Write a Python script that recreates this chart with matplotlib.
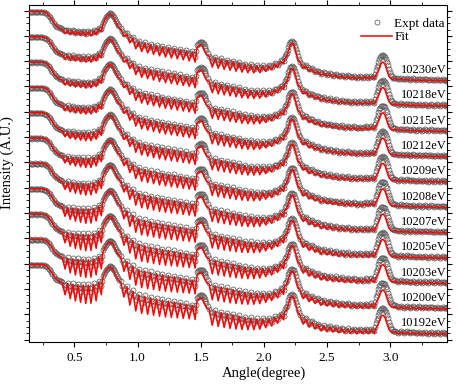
import numpy as np
import matplotlib
matplotlib.use('Agg')
import matplotlib.pyplot as plt
from matplotlib.ticker import MultipleLocator

plt.rcParams['font.family'] = ['Liberation Serif', 'DejaVu Serif']

energies = ['10230eV', '10218eV', '10215eV', '10212eV', '10209eV', '10208eV',
            '10207eV', '10205eV', '10203eV', '10200eV', '10192eV']
# how deep the fit fringes go for each energy (0 = like 10230eV, 1 = like 10192eV)
fringe_depth = [0.0, 0.05, 0.1, 0.15, 0.25, 0.35, 0.5, 0.7, 0.85, 0.95, 1.0]

# smooth parts of each curve (plateau, edge, Bragg peaks), drop below plateau in px
base_x = [0.145, 0.165, 0.185, 0.205, 0.225, 0.245, 0.265, 0.285, 0.305, 0.325, 0.345, 0.365, 0.385,
          0.725, 0.74, 0.755, 0.77, 0.785, 0.80, 0.815, 0.83, 0.845,
          1.47, 1.485, 1.50, 1.515, 1.53, 1.545,
          2.165, 2.18, 2.195, 2.21, 2.225, 2.24, 2.255, 2.27,
          2.885, 2.90, 2.915, 2.93, 2.945, 2.96, 2.975, 2.99, 3.005, 3.02, 3.45]
base_fit = [0, 0, 0, 0, 0, 0, 0.5, 2, 5, 9, 13, 15.5, 17,
            13, 8.5, 5, 3, 2.5, 4, 7.5, 11.5, 15,
            36, 34, 33.5, 35, 39, 43,
            47, 45, 39, 33, 31.5, 34, 41, 48,
            64, 61, 56, 51.5, 50.5, 53, 59, 64.5, 67, 68, 69]
base_expt = [0, 0.5, 0, 0.5, 0, 0.5, 1, 2.5, 5.5, 9.5, 13, 15, 16.5,
             11, 7, 4, 2, 1.5, 2.5, 5.5, 9.5, 13,
             33, 31, 30.5, 31, 34, 38,
             44, 41, 35, 30.5, 29.5, 31, 37, 44,
             58, 53, 47, 44, 43.5, 45, 50, 57, 63, 66, 68]

# fringe maxima positions (degree) between the Bragg peaks
fringe_max = [
    [0.405, 0.446, 0.487, 0.528, 0.569, 0.610, 0.651, 0.692],
    [0.868, 0.915, 0.962, 1.009, 1.056, 1.103, 1.150, 1.197, 1.244, 1.291, 1.338, 1.385, 1.432],
    [1.568, 1.615, 1.662, 1.709, 1.756, 1.803, 1.850, 1.897, 1.944, 1.991, 2.038, 2.085, 2.132],
    [2.288, 2.335, 2.382, 2.429, 2.476, 2.523, 2.570, 2.617, 2.664, 2.711, 2.758, 2.805, 2.852],
    [3.040, 3.087, 3.134, 3.181, 3.228, 3.275, 3.322, 3.369, 3.416],
]

# fringe envelope: tops, and bottoms for shallow / deep curves (px below plateau)
env_x = [0.40, 0.45, 0.52, 0.60, 0.66, 0.71, 0.86, 0.92, 1.00, 1.10, 1.20, 1.30, 1.40, 1.44,
         1.57, 1.65, 1.75, 1.85, 1.95, 2.05, 2.12, 2.15, 2.29, 2.35, 2.45, 2.60, 2.75, 2.87,
         3.03, 3.20, 3.44]
env_hi = [18, 19, 20, 20.5, 19.5, 16, 17, 23, 30, 33, 35.5, 37.5, 40, 41,
          45, 47.5, 50, 53, 54.5, 54.5, 51, 48, 51, 56, 61, 64, 65.5, 65,
          67, 68, 68.5]
env_lo_shallow = [21, 22.5, 23.5, 24.5, 24, 20, 20, 29, 39, 42, 45, 47, 49, 50,
                  55, 57, 59, 61, 61.5, 59, 55, 52, 55, 59.5, 63.5, 66.5, 67.5, 67,
                  68, 69, 69.5]
env_lo_deep = [27, 33, 37, 39, 38, 30, 26, 38, 48, 50, 52, 53, 54, 54,
               60, 62, 64, 65, 65, 62, 58, 55, 58, 62, 66, 68, 69, 68.5,
               69, 69.5, 70]
# measured points sit a little above the fit tops and fill part of the dips
expt_shift = -1.0
expt_fill = 0.4

px_per_decade = 25.3
top_level = 12.96

# fringe extrema: maxima and the minima between them
ext_x, ext_is_max = [], []
for seg in fringe_max:
    for k, xm in enumerate(seg):
        ext_x.append(xm)
        ext_is_max.append(True)
        if k + 1 < len(seg):
            ext_x.append((xm + seg[k + 1]) / 2)
        else:
            ext_x.append(xm + (xm - seg[k - 1]) / 2)
        ext_is_max.append(False)
ext_x = np.array(ext_x)
ext_is_max = np.array(ext_is_max)

hi = np.interp(ext_x, env_x, env_hi)
lo_sh = np.interp(ext_x, env_x, env_lo_shallow)
lo_dp = np.interp(ext_x, env_x, env_lo_deep)

fig = plt.figure(figsize=(4.57, 3.84), dpi=100)
ax = fig.add_axes([0.0635, 0.109, 0.9145, 0.878])

for i, lab in enumerate(energies):
    lo = lo_sh + fringe_depth[i] * (lo_dp - lo_sh)
    fit_ext = np.where(ext_is_max, hi, lo)
    expt_ext = np.where(ext_is_max, hi + expt_shift, hi + expt_fill * (lo - hi))
    x = np.concatenate([base_x, ext_x])
    order = np.argsort(x)
    x = x[order]
    fit = np.concatenate([base_fit, fit_ext])[order]
    expt = np.concatenate([base_expt, expt_ext])[order]
    # measured points are recorded about twice as densely as the fringe extrema
    ex = np.concatenate([x, (x[:-1] + x[1:]) / 2])
    ey = np.concatenate([expt, (expt[:-1] + expt[1:]) / 2])
    level = top_level - i
    ax.plot(ex, level - ey / px_per_decade, 'o', mfc='none', mec='#5c5c5c',
            ms=3.6, mew=0.55, zorder=2, label='Expt data' if i == 0 else None)
    ax.plot(x, level - fit / px_per_decade, color='red', lw=1.1, zorder=3,
            label='Fit' if i == 0 else None)
    ax.text(3.445, level - 58.5 / px_per_decade, lab, ha='right', va='center', fontsize=9)

ax.set_xlim(0.14, 3.45)
ax.set_ylim(-0.1, 13.22)
ax.xaxis.set_major_locator(MultipleLocator(0.5))
ax.xaxis.set_minor_locator(MultipleLocator(0.25))
ax.yaxis.set_major_locator(MultipleLocator(1))
ax.yaxis.set_minor_locator(MultipleLocator(0.25))
ax.tick_params(which='both', direction='out', top=True, right=True, labelsize=9.5)
ax.tick_params(which='major', length=3.5, width=0.8)
ax.tick_params(which='minor', length=2, width=0.6)
ax.set_yticklabels([])
ax.set_xticks([0.5, 1.0, 1.5, 2.0, 2.5, 3.0])
ax.set_xticklabels(['0.5', '1.0', '1.5', '2.0', '2.5', '3.0'])

ax.set_xlabel('Angle(degree)', fontsize=10.5)
ax.xaxis.set_label_coords(0.562, -0.072)
ax.set_ylabel('Intensity (A.U.)', fontsize=10.5)
ax.yaxis.set_label_coords(-0.035, 0.534)

ax.legend(loc='upper right', bbox_to_anchor=(1.008, 0.978), frameon=False, fontsize=9.5,
          numpoints=1, handlelength=2.3, handletextpad=0.2, labelspacing=0.1,
          borderaxespad=0.0)

fig.savefig('out.png', dpi=100)
